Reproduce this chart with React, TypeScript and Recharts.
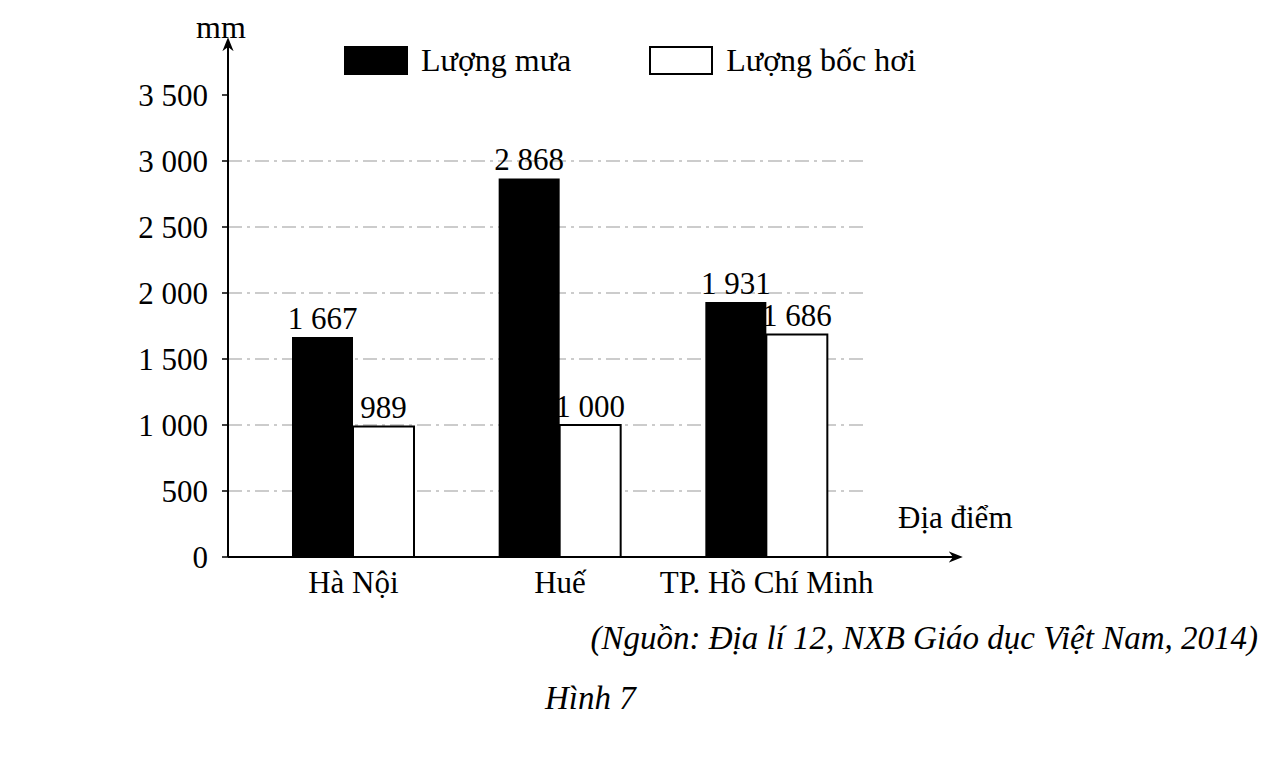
import { BarChart, Bar, XAxis, YAxis, CartesianGrid, LabelList, Legend } from "recharts"

const places = ["Hà Nội", "Huế", "TP. Hồ Chí Minh"]
const seriesNames = ["Lượng mưa", "Lượng bốc hơi"]
const rainfall = [1667, 2868, 1931]
const evaporation = [989, 1000, 1686]
const yTicks = [0, 500, 1000, 1500, 2000, 2500, 3000, 3500]
const gridValues = [500, 1000, 1500, 2000, 2500, 3000]

const data = places.map((place, i) => ({ place, rain: rainfall[i], evap: evaporation[i] }))

// thousands separated by a space, as in the book
const fmt = (v: number) => String(v).replace(/\B(?=(\d{3})+(?!\d))/g, " ")

const font = "'Liberation Serif', 'Times New Roman', serif"

function LegendBox(props: any) {
  const items = [...(props.payload || [])].sort(
    (a: any, b: any) => seriesNames.indexOf(a.value) - seriesNames.indexOf(b.value)
  )
  return (
    <div style={{ display: "flex", alignItems: "center", fontFamily: font, fontSize: 32 }}>
      {items.map((it: any, i: number) => (
        <div key={i} style={{ display: "flex", alignItems: "center", marginRight: 78 }}>
          <div
            style={{
              width: 60,
              height: 25,
              background: it.color,
              border: "2px solid #000",
              marginRight: 13,
            }}
          />
          <span>{it.value}</span>
        </div>
      ))}
    </div>
  )
}

export default function App() {
  return (
    <div style={{ position: "relative", width: 1264, height: 749, background: "#fff", fontFamily: font }}>
      <svg width={0} height={0} style={{ position: "absolute" }}>
        <defs>
          <marker id="arrow" viewBox="0 0 10 10" refX="8" refY="5" markerWidth="7" markerHeight="7" orient="auto-start-reverse">
            <path d="M0,1 L10,5 L0,9 L3,5 z" fill="#000" />
          </marker>
        </defs>
      </svg>
      <BarChart
        width={1264}
        height={620}
        data={data}
        margin={{ top: 32, right: 312, bottom: 21, left: 0 }}
        barGap={0}
      >
        <CartesianGrid
          vertical={false}
          horizontalValues={gridValues}
          horizontal={(p: any) => (
            <line
              key={p.key}
              x1={p.x1}
              x2={p.x2 - 95}
              y1={p.y1}
              y2={p.y2}
              stroke="#999"
              strokeWidth={1.2}
              strokeDasharray="14 5 3 5"
            />
          )}
        />
        <XAxis
          dataKey="place"
          padding={{ left: 22, right: 90 }}
          height={50}
          tickLine={false}
          axisLine={{ stroke: "#000", strokeWidth: 2, markerEnd: "url(#arrow)" }}
          tick={{ fill: "#000", fontSize: 31, fontFamily: font }}
          tickMargin={8}
        />
        <YAxis
          domain={[0, 3500]}
          ticks={yTicks}
          width={220}
          padding={{ top: 55 }}
          tickFormatter={fmt}
          tickSize={6}
          tickMargin={14}
          tickLine={{ stroke: "#000", strokeWidth: 1.5 }}
          axisLine={{ stroke: "#000", strokeWidth: 2, markerStart: "url(#arrow)" }}
          tick={{ fill: "#000", fontSize: 31, fontFamily: font }}
        />
        <Legend
          layout="horizontal"
          verticalAlign="middle"
          align="center"
          wrapperStyle={{ top: 34, left: 336, width: "auto" }}
          content={<LegendBox />}
        />
        <Bar dataKey="rain" name={seriesNames[0]} fill="#000" barSize={61} isAnimationActive={false}>
          <LabelList dataKey="rain" position="top" formatter={fmt} fill="#000" fontSize={31} fontFamily={font} offset={8} />
        </Bar>
        <Bar dataKey="evap" name={seriesNames[1]} fill="#fff" stroke="#000" strokeWidth={2} barSize={61} isAnimationActive={false}>
          <LabelList dataKey="evap" position="top" formatter={fmt} fill="#000" stroke="none" fontSize={31} fontFamily={font} offset={8} />
        </Bar>
      </BarChart>
      <div style={{ position: "absolute", left: 188, top: 1, fontSize: 32 }}>mm</div>
      <div style={{ position: "absolute", left: 890, top: 492, fontSize: 31 }}>Địa điểm</div>
      <div style={{ position: "absolute", right: 14, top: 612, fontSize: 33, fontStyle: "italic" }}>
        (Nguồn: Địa lí 12, NXB Giáo dục Việt Nam, 2014)
      </div>
      <div style={{ position: "absolute", left: 537, top: 672, fontSize: 33, fontStyle: "italic" }}>Hình 7</div>
    </div>
  )
}
